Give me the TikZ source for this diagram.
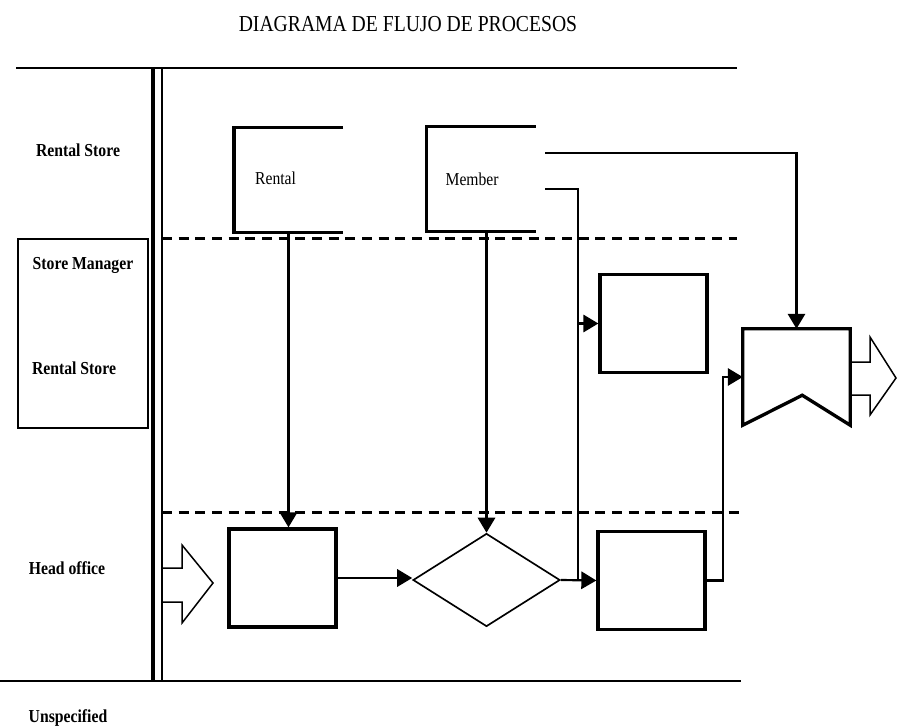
\documentclass[tikz,border=0pt]{standalone}
\usepackage{fontspec}
\setmainfont{Liberation Serif}
\newfontfamily\narrowserif[FakeStretch=0.86]{Liberation Serif}
\usetikzlibrary{positioning, arrows.meta, shapes.geometric}

\begin{document}
\begin{tikzpicture}[
  x=0.3mm, y=-0.3mm,
  heading/.style={font=\narrowserif\fontsize{19.5}{22}\selectfont, inner sep=0pt},
  lane/.style={font=\narrowserif\fontsize{15.6}{18}\selectfont\bfseries, inner sep=0pt},
  lbl/.style={font=\narrowserif\fontsize{15.5}{18}\selectfont, inner sep=0pt},
  store/.style={minimum width=32.6mm, minimum height=31.4mm, inner sep=0pt},
  storeline/.style={line width=1mm},
  box/.style={draw, line width=1mm, minimum width=32.1mm, minimum height=29.4mm, inner sep=0pt},
  decision/.style={draw, diamond, line width=0.5mm, minimum width=44.1mm, minimum height=27.9mm, inner sep=0pt},
  lanebox/.style={draw, line width=0.6mm, minimum width=39mm, minimum height=56.7mm, inner sep=0pt},
  laneline/.style={line width=0.75mm},
  sep/.style={line width=0.9mm, dash pattern=on 3mm off 2mm},
  arr/.style={-{Triangle[length=4.5mm, width=5.2mm]}, line width=0.65mm},
  wire/.style={line width=0.65mm},
  fat/.style={line width=0.45mm, line join=miter}
]
  \useasboundingbox (0,0) rectangle (897,728);

  \node[heading] (title) at (408,24) {DIAGRAMA DE FLUJO DE PROCESOS};

  \draw[laneline] (16,68) -- (737,68);
  \draw[laneline] (0,681) -- (741,681);
  \draw[line width=1.1mm] (153,68) -- (153,681);
  \draw[line width=0.6mm] (162,68) -- (162,681);
  \draw[sep] (162,238) -- (737,238);
  \draw[sep] (162,512) -- (743,512);

  \node[lane] (rs) at (78,150) {Rental Store};
  \node[lanebox] (mgr) at (83,333.5) {};
  \node[lane] (sm) at (83,265) {Store Manager};
  \node[lane] (rs2) at (74,368) {Rental Store};
  \node[lane] (ho) at (67,568) {Head office};
  \node[lane] (un) at (68,718) {Unspecified};

  \node[store] (rental) at (288.5,180) {};
  \node[store] (member) at (481,179) {};
  \foreach \s in {rental,member}
    \draw[storeline] (\s.north east) -- (\s.north west) -- (\s.south west) -- (\s.south east);
  \node[lbl, right=6.3mm of rental.west, yshift=0.6mm] (rtxt) {Rental};
  \node[lbl, right=5.7mm of member.west] (mtxt) {Member};

  \node[box] (box1) at (282.5,578) {};
  \node[decision] (dia) at (486.5,580) {};
  \node[box] (box2) at (653.5,323.5) {};
  \node[box] (box3) at (651.5,580.5) {};
  \node[minimum width=32.1mm, minimum height=28.8mm, inner sep=0pt] (out) at (796.5,377) {};
  \draw[line width=1mm] (out.north west) -- (out.north east) -- (out.south east)
    -- ++(-48,-30) -- (out.south west) -- cycle;

  \draw[fat] (162,568) -- (182,568) -- (182,545) -- (213,583) -- (182,623) -- (182,602) -- (162,602);
  \draw[fat] (out.east |- 0,362) -- (870,362) -- (870,337) -- (896,378) -- (870,415) -- (870,395) -- (out.east |- 0,395);

  \coordinate (m1) at (545,153);
  \coordinate (m2) at (545,189);
  \coordinate (jn) at (578,580);

  \draw[arr] (rental.south) -- (rental.south |- box1.north);
  \draw[arr] (dia.north |- member.south) -- (dia.north);
  \draw[arr] (box1.east) -- (box1.east -| dia.west);
  \draw[arr] (dia.east) -- (box3.west);
  \draw[arr] (m1) -| (out.north);
  \draw[wire] (m2) -| (jn);
  \draw[arr] (box2.west -| jn) -- (box2.west);
  \draw[arr] (box3.east) -- ++(16,0) |- (out.west);
\end{tikzpicture}
\end{document}
